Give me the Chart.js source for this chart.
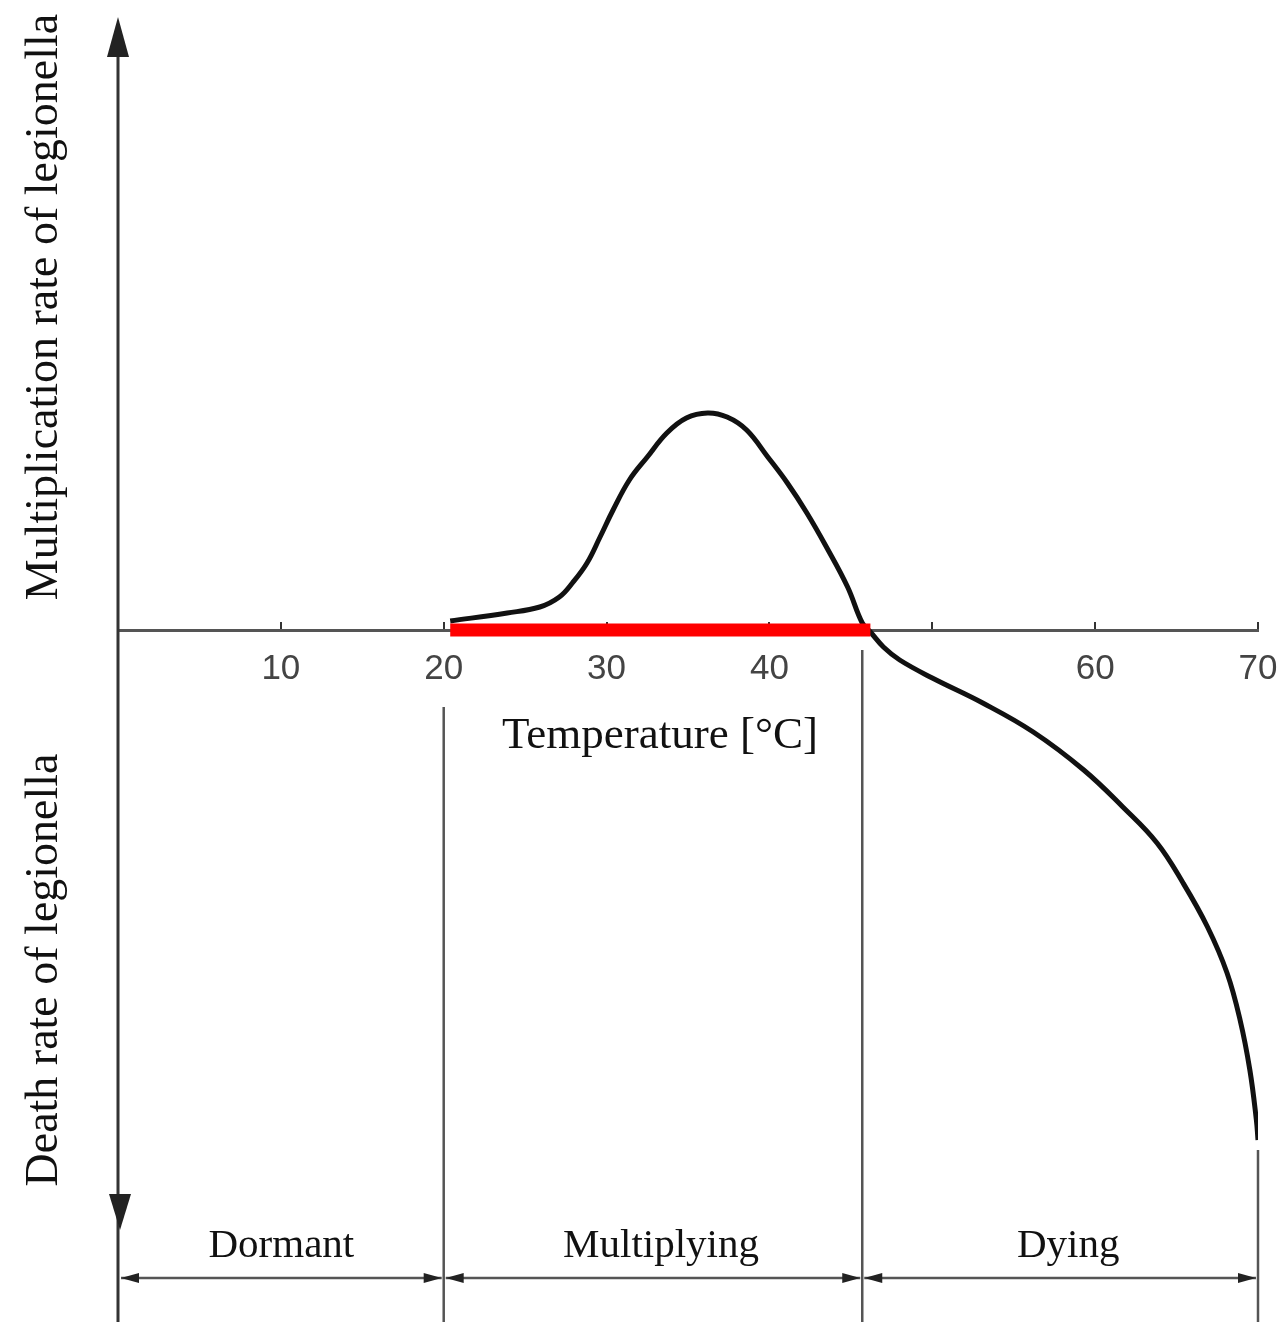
<!DOCTYPE html>
<html>
<head>
<meta charset="utf-8">
<title>Legionella growth vs temperature</title>
<script src="https://cdn.jsdelivr.net/npm/chart.js@4.4.1/dist/chart.umd.min.js"></script>
<style>
  html, body { margin: 0; padding: 0; background: #fff; overflow: hidden; }
  #chart { display: block; }
</style>
</head>
<body>
<canvas id="chart" width="1280" height="1325"></canvas>
<script>
// curve (temperature in °C, rate in arbitrary units, + = multiplying, - = dying)
const curveTemp = [20.4, 23.9, 25.9, 27.1, 27.9, 28.8, 29.6, 30.4, 31.4, 32.5, 33.7, 34.9, 36.2, 37.4, 38.6, 39.9, 41.1, 42.3, 43.5, 44.8, 45.7, 46.2, 47.0, 48.0, 50.0, 53.1, 56.2, 59.3, 61.7, 63.8, 65.4, 66.9, 68.1, 68.9, 69.5, 69.9, 70.0];
const curveRate = [0.9, 1.7, 2.3, 3.3, 4.7, 6.7, 9.3, 12.0, 15.0, 17.3, 19.7, 21.2, 21.7, 21.3, 20.0, 17.3, 14.7, 11.7, 8.3, 4.3, 0.7, -0.2, -1.7, -3.0, -4.8, -7.3, -10.2, -14.0, -17.7, -21.3, -25.3, -29.7, -34.3, -39.0, -44.0, -49.0, -51.0];

// red band on the axis (multiplying range)
const bandTemp = [20.4, 46.2];
const bandRate = [0, 0];

// x ticks
const tickValues = [0, 10, 20, 30, 40, 50, 60, 70];
const tickLabels = [10, 20, 30, 40, 60, 70];

// zones under the chart
const zoneLabels = ['Dormant', 'Multiplying', 'Dying'];
const zoneEdges = [0, 20, 45.7, 70];

const yTop = 61;
const yBottom = -60;

const serif = '"Liberation Serif", "DejaVu Serif", serif';

function toPoints(xs, ys) {
  return xs.map((x, i) => ({ x, y: ys[i] }));
}

function arrowHead(ctx, x, y, dx, dy, len, half) {
  // tip at (x, y), pointing along (dx, dy)
  ctx.beginPath();
  ctx.moveTo(x, y);
  ctx.lineTo(x - dx * len - dy * half, y - dy * len - dx * half);
  ctx.lineTo(x - dx * len + dy * half, y - dy * len + dx * half);
  ctx.closePath();
  ctx.fill();
}

const decorPlugin = {
  id: 'decor',
  beforeDatasetsDraw(chart) {
    const { ctx, chartArea, scales: { x, y } } = chart;
    const h = chart.height;
    const x0 = x.getPixelForValue(0);
    ctx.save();

    // y axis with arrows both ways
    ctx.strokeStyle = '#333';
    ctx.fillStyle = '#222';
    ctx.lineWidth = 3;
    ctx.beginPath();
    ctx.moveTo(x0, chartArea.top + 10);
    ctx.lineTo(x0, h - 3);
    ctx.stroke();
    arrowHead(ctx, x0, y.getPixelForValue(yTop) - 3, 0, -1, 40, 11);
    arrowHead(ctx, x0 + 2, y.getPixelForValue(yBottom), 0, 1, 36, 11);

    // zone separators
    ctx.strokeStyle = '#555';
    ctx.lineWidth = 2.5;
    const sepTop = [null, y.getPixelForValue(-7.7), y.getPixelForValue(-2), y.getPixelForValue(-52)];
    for (let i = 1; i < zoneEdges.length; i++) {
      const px = x.getPixelForValue(zoneEdges[i]);
      ctx.beginPath();
      ctx.moveTo(px, sepTop[i]);
      ctx.lineTo(px, h - 3);
      ctx.stroke();
    }

    // double arrows under the zones
    const by = 1278;
    ctx.lineWidth = 2.5;
    for (let i = 0; i < zoneLabels.length; i++) {
      const a = x.getPixelForValue(zoneEdges[i]) + (i === 0 ? 3 : 2);
      const b = x.getPixelForValue(zoneEdges[i + 1]) - 2;
      ctx.strokeStyle = '#555';
      ctx.fillStyle = '#222';
      ctx.beginPath();
      ctx.moveTo(a, by);
      ctx.lineTo(b, by);
      ctx.stroke();
      arrowHead(ctx, a, by, -1, 0, 18, 5);
      arrowHead(ctx, b, by, 1, 0, 18, 5);

      ctx.font = '41px ' + serif;
      ctx.textAlign = 'center';
      ctx.textBaseline = 'alphabetic';
      ctx.fillStyle = '#111';
      ctx.fillText(zoneLabels[i], (a + b) / 2 + (i === 0 ? 0 : 8), 1257);
    }
    ctx.restore();
  },
  afterDraw(chart) {
    const { ctx } = chart;
    ctx.save();
    ctx.fillStyle = '#111';
    ctx.textAlign = 'center';
    ctx.textBaseline = 'alphabetic';
    ctx.font = '45px ' + serif;
    ctx.fillText('Temperature [°C]', 660, 748);

    ctx.font = '46px ' + serif;
    ctx.translate(57, 307);
    ctx.rotate(-Math.PI / 2);
    ctx.fillText('Multiplication rate of legionella', 0, 0);
    ctx.rotate(Math.PI / 2);
    ctx.translate(0, 970 - 307);
    ctx.rotate(-Math.PI / 2);
    ctx.fillText('Death rate of legionella', 0, 0);
    ctx.restore();
  },
};

new Chart(document.getElementById('chart').getContext('2d'), {
  type: 'line',
  data: {
    datasets: [
      {
        label: 'Multiplying range',
        data: toPoints(bandTemp, bandRate),
        borderColor: '#ff0000',
        borderWidth: 13,
        borderCapStyle: 'butt',
        pointRadius: 0,
        order: 0,
      },
      {
        label: 'Rate',
        data: toPoints(curveTemp, curveRate),
        borderColor: '#111',
        borderWidth: 5,
        pointRadius: 0,
        tension: 0.4,
        order: 1,
      },
    ],
  },
  options: {
    responsive: false,
    animation: false,
    layout: { autoPadding: false, padding: { left: 118, right: 22, top: 20, bottom: 95 } },
    plugins: { legend: { display: false }, tooltip: { enabled: false } },
    scales: {
      x: {
        type: 'linear',
        min: 0,
        max: 70,
        position: { y: 0 },
        afterBuildTicks: (scale) => {
          scale.ticks = tickValues.map((v) => ({ value: v }));
        },
        // the "70" label may hang past the plot, don't let it shrink the area
        afterFit: (scale) => {
          scale.paddingLeft = 0;
          scale.paddingRight = 0;
        },
        border: { display: true, color: '#555', width: 3 },
        grid: { display: true, drawOnChartArea: false, drawTicks: true, tickLength: -10, color: '#333', lineWidth: 2 },
        ticks: {
          autoSkip: false,
          maxRotation: 0,
          padding: 28,
          color: '#444',
          font: { family: '"Liberation Sans", Arial, sans-serif', size: 35 },
          callback: (v) => (tickLabels.includes(v) ? String(v) : ''),
        },
      },
      y: {
        type: 'linear',
        min: yBottom,
        max: yTop,
        display: false,
      },
    },
  },
  plugins: [decorPlugin],
});
</script>
</body>
</html>
